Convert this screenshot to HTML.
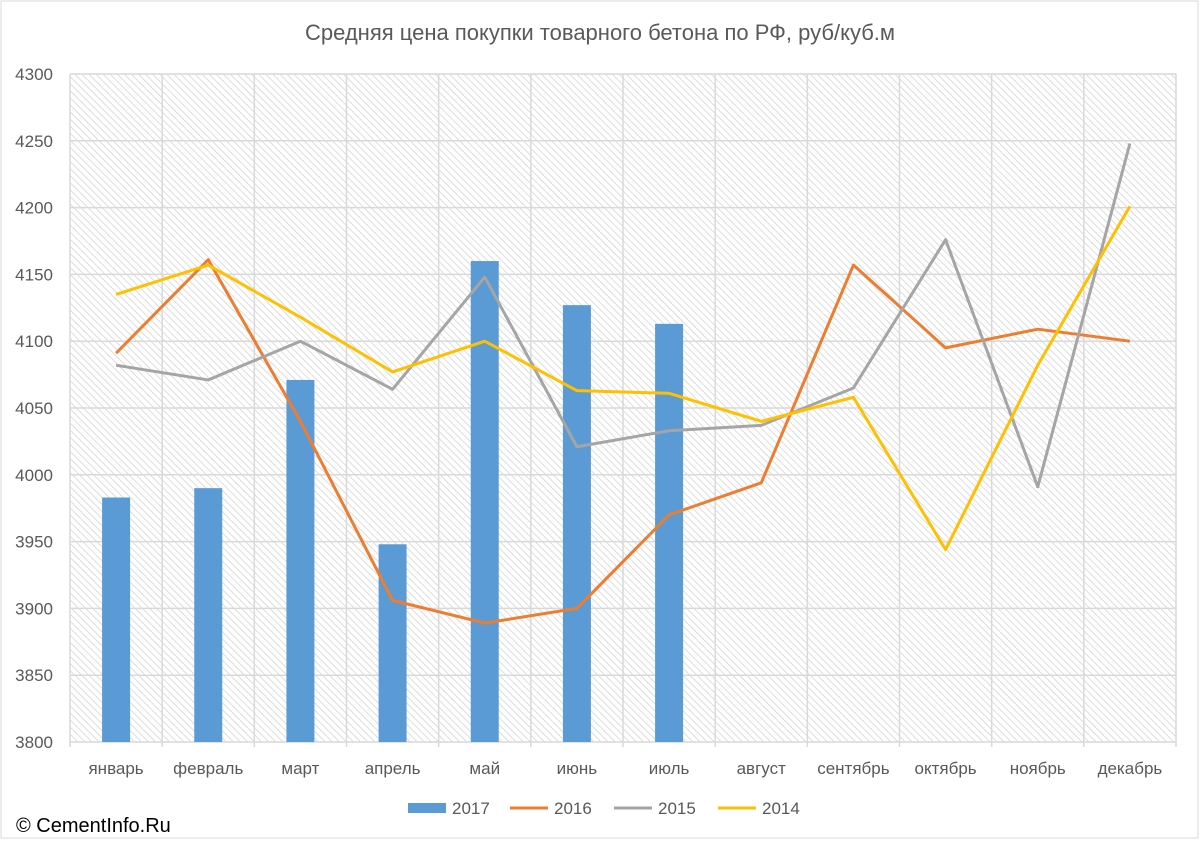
<!DOCTYPE html>
<html><head><meta charset="utf-8"><style>
body{margin:0;background:#fff;}
svg{display:block;font-family:"Liberation Sans",sans-serif;}
</style></head><body>
<svg id="chart" width="1200" height="841" viewBox="0 0 1200 841">
<defs>
<pattern id="hatch" width="5" height="5" patternUnits="userSpaceOnUse" patternTransform="rotate(-45)">
<rect width="5" height="5" fill="#ffffff"/>
<line x1="0" y1="0" x2="0" y2="5" stroke="#d4d4d4" stroke-width="1.6"/>
</pattern>
</defs>
<rect x="1" y="1" width="1197" height="837" fill="#fff" stroke="#d9d9d9"/>
<text x="600" y="40" text-anchor="middle" font-size="22" fill="#595959">Средняя цена покупки товарного бетона по РФ, руб/куб.м</text>
<rect x="70" y="74" width="1106" height="668" fill="url(#hatch)"/>
<g id="grid"></g>
<g id="bars"></g>
<g id="lines"></g>
<g id="labels"></g>
<g>
<rect x="408" y="803" width="38" height="10" fill="#5b9bd5"/>
<text x="452" y="814" font-size="17" fill="#595959">2017</text>
<line x1="510" y1="808" x2="548" y2="808" stroke="#ed7d31" stroke-width="3"/>
<text x="554" y="814" font-size="17" fill="#595959">2016</text>
<line x1="614" y1="808" x2="652" y2="808" stroke="#a5a5a5" stroke-width="3"/>
<text x="658" y="814" font-size="17" fill="#595959">2015</text>
<line x1="718" y1="808" x2="756" y2="808" stroke="#ffc000" stroke-width="3"/>
<text x="762" y="814" font-size="17" fill="#595959">2014</text>
</g>
<text x="16" y="832" font-size="20" fill="#000">© CementInfo.Ru</text>
</svg>
<script>
const categories=["январь","февраль","март","апрель","май","июнь","июль","август","сентябрь","октябрь","ноябрь","декабрь"];
const values2017=[3983,3990,4071,3948,4160,4127,4113];
const values2016=[4091,4161,4040,3906,3889,3900,3970,3994,4157,4095,4109,4100];
const values2015=[4082,4071,4100,4064,4148,4021,4033,4037,4065,4176,3991,4248];
const values2014=[4135,4157,4118,4077,4100,4063,4061,4040,4058,3944,4082,4201];
const yTicks=[3800,3850,3900,3950,4000,4050,4100,4150,4200,4250,4300];

const NS="http://www.w3.org/2000/svg";
const L=70,R=1176,T=74,B=742,yMin=3800,yMax=4300;
const bw=(R-L)/categories.length;
const xC=i=>L+bw*(i+0.5);
const y=v=>B-(v-yMin)/(yMax-yMin)*(B-T);
function mk(tag,attrs,parent){const e=document.createElementNS(NS,tag);for(const k in attrs)e.setAttribute(k,attrs[k]);document.getElementById(parent).appendChild(e);return e;}

yTicks.forEach(t=>{
  const g=mk('line',{x1:L,x2:R,y1:y(t),y2:y(t),stroke:'#d9d9d9','stroke-width':1.5},'grid');
  
  
  const tx=mk('text',{x:53,y:y(t)+6,'text-anchor':'end','font-size':17,fill:'#595959'},'labels');
  tx.textContent=t;
  
  
});
for(let i=0;i<=categories.length;i++){
  const g=mk('line',{x1:L+bw*i,x2:L+bw*i,y1:T,y2:B+5,stroke:'#d9d9d9','stroke-width':1.5},'grid');
  
  
}
categories.forEach((c,i)=>{
  const tx=mk('text',{x:xC(i),y:774,'text-anchor':'middle','font-size':17,fill:'#595959'},'labels');
  tx.textContent=c;
  
  
});
values2017.forEach((v,i)=>{
  const r=mk('rect',{x:xC(i)-14,y:y(v),width:28,height:B-y(v),fill:'#5b9bd5'},'bars');
  
  
});
[[values2016,'#ed7d31','2016'],[values2015,'#a5a5a5','2015'],[values2014,'#ffc000','2014']].forEach(([vals,col,nm])=>{
  const p=mk('polyline',{points:vals.map((v,i)=>xC(i)+','+y(v)).join(' '),fill:'none',stroke:col,'stroke-width':3,'stroke-linejoin':'round'},'lines');
  
  
});
</script>
</body></html>
